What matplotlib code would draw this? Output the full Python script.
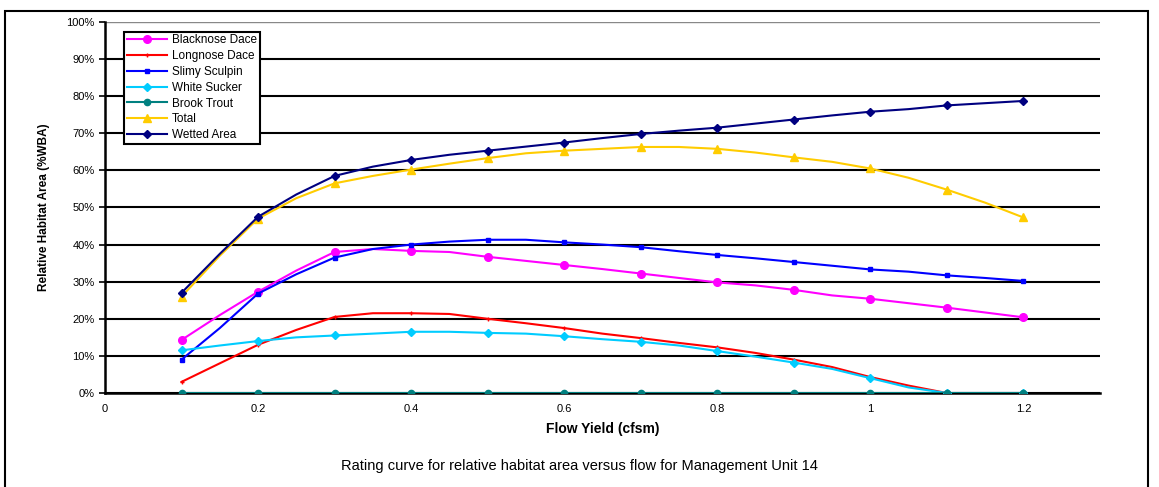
import matplotlib.pyplot as plt
from matplotlib.patches import Rectangle
from matplotlib.ticker import PercentFormatter

plt.rcParams['font.family'] = ['Liberation Sans', 'DejaVu Sans']

# flow yield (cfsm); markers drawn every 0.1
flow = [0.1, 0.15, 0.2, 0.25, 0.3, 0.35, 0.4, 0.45, 0.5, 0.55, 0.6, 0.65,
        0.7, 0.75, 0.8, 0.85, 0.9, 0.95, 1.0, 1.05, 1.1, 1.15, 1.2]

blacknose = [14.3, 21, 27.3, 33, 38, 38.8, 38.3, 38, 36.7, 35.6, 34.5, 33.4,
             32.2, 31, 29.8, 29, 27.8, 26.3, 25.4, 24.2, 23, 21.7, 20.4]
longnose = [3, 8, 13, 17, 20.5, 21.5, 21.5, 21.3, 20, 18.8, 17.5, 16,
            14.8, 13.5, 12.3, 10.8, 9, 7, 4.3, 2, 0, 0, 0]
sculpin = [9, 17.5, 26.8, 32, 36.5, 38.8, 40, 40.8, 41.3, 41.3, 40.6, 40,
           39.3, 38.2, 37.2, 36.3, 35.3, 34.3, 33.3, 32.7, 31.7, 31, 30.2]
sucker = [11.5, 12.8, 14, 15, 15.5, 16, 16.5, 16.5, 16.2, 16, 15.3, 14.5,
          13.8, 12.8, 11.3, 9.8, 8.2, 6.5, 4, 1.5, 0, 0, 0]
trout = [0] * 23
total = [26, 37, 47, 52.5, 56.5, 58.5, 60.2, 61.8, 63.3, 64.6, 65.3, 65.8,
         66.3, 66.3, 65.8, 64.8, 63.5, 62.3, 60.5, 58, 54.8, 51.3, 47.3]
wetted = [27, 37.5, 47.5, 53.5, 58.5, 61, 62.8, 64.2, 65.3, 66.4, 67.5, 68.7,
          69.8, 70.7, 71.5, 72.6, 73.7, 74.8, 75.8, 76.5, 77.5, 78.1, 78.7]

xticks = [0, 0.2, 0.4, 0.6, 0.8, 1, 1.2]
xticklabels = ['0', '0.2', '0.4', '0.6', '0.8', '1', '1.2']

fig = plt.figure(figsize=(11.59, 4.87), dpi=100)
ax = fig.add_axes([0.0906, 0.193, 0.8584, 0.762])

# outer frame
fig.patches.append(Rectangle((5 / 1159, -0.05), 1143 / 1159, 1.04 - 6 / 487,
                             transform=fig.transFigure, fill=False,
                             edgecolor='black', linewidth=1.5))

series = [
    ('Blacknose Dace', blacknose, '#FF00FF', 'o', 5.5),
    ('Longnose Dace', longnose, '#FF0000', '+', 3.5),
    ('Slimy Sculpin', sculpin, '#0000FF', 's', 2.5),
    ('White Sucker', sucker, '#00CCFF', 'D', 4.5),
    ('Brook Trout', trout, '#008080', 'o', 4.5),
    ('Total', total, '#FFCC00', '^', 5.5),
    ('Wetted Area', wetted, '#000080', 'D', 4.5),
]
for name, vals, col, mk, ms in series:
    ax.plot(flow, vals, color=col, lw=1.5, marker=mk, ms=ms, markevery=2,
            mec=col, mew=1.0, label=name, zorder=3)

ax.set_xlim(0, 1.3)
ax.set_ylim(0, 100)
ax.set_yticks(range(0, 101, 10))
ax.yaxis.set_major_formatter(PercentFormatter(decimals=0))
ax.set_xticks(xticks)
ax.set_xticklabels(xticklabels)
ax.tick_params(axis='y', labelsize=8, length=4, width=1.2, direction='out')
ax.tick_params(axis='x', labelsize=8, length=0, pad=8)
ax.grid(axis='y', color='black', lw=1.5, zorder=1)
ax.get_ygridlines()[-1].set_color('#888888')
ax.get_ygridlines()[-1].set_linewidth(1.0)
for s in ['top', 'right']:
    ax.spines[s].set_visible(False)
ax.spines['left'].set_linewidth(1.8)
ax.spines['bottom'].set_linewidth(1.8)

ax.set_xlabel('Flow Yield (cfsm)', fontsize=10, fontweight='bold', labelpad=6)
ax.set_ylabel('Relative Habitat Area (%WBA)', fontsize=8.5, fontweight='bold',
              labelpad=12)

leg = ax.legend(loc='upper left', bbox_to_anchor=(0.013, 0.99), fontsize=8.5,
                fancybox=False, framealpha=1, edgecolor='black',
                handlelength=3.4, borderpad=0.25, labelspacing=0.32,
                handletextpad=0.4)
leg.get_frame().set_linewidth(1.5)

fig.text(0.5, 0.035, 'Rating curve for relative habitat area versus flow for Management Unit 14',
         ha='center', fontsize=10.5)

plt.savefig('out.png')
